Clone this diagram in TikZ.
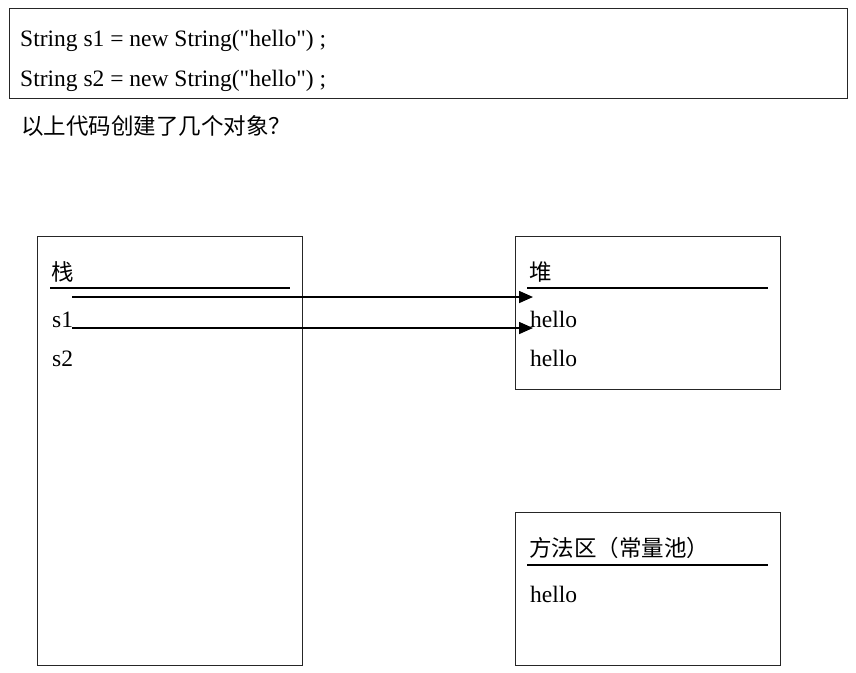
\documentclass[tikz,border=0pt]{standalone}
\usepackage{fontspec}
\setmainfont{Liberation Serif}[Ligatures=TeXOff]
\newfontfamily\cjk{Noto Sans CJK SC}
\usetikzlibrary{arrows.meta}
\begin{document}
\begin{tikzpicture}[x=1pt,y=-1pt,
  box/.style={draw=black!85,line width=1.3pt,inner sep=0pt,anchor=north west},
  txt/.style={inner sep=0pt,anchor=base west,font=\fontsize{23.5}{26}\selectfont},
  ctxt/.style={inner sep=0pt,anchor=base west,font=\fontsize{22.5}{25}\selectfont\cjk},
  rule/.style={line width=2pt},
  ptr/.style={line width=1.6pt,-{Triangle[length=14pt,width=12pt]}}]
\useasboundingbox (0,0) rectangle (856,672);
% code box
\node[box,minimum width=838pt,minimum height=90pt] (code) at (9,7.5) {};
\node[txt] (l1) at (20,46.5) {String s1 = new String("hello") ;};
\node[txt] (l2) at (20,86.5) {String s2 = new String("hello") ;};
\node[ctxt] (q) at (21,134) {以上代码创建了几个对象？};
% stack
\node[box,minimum width=265pt,minimum height=429pt] (stack) at (37,236) {};
\node[ctxt] (stt) at (51,280) {栈};
\coordinate (sl1) at (50,288); \coordinate (sl2) at (290,288);
\draw[rule] (sl1) -- (sl2);
\node[txt] (s1) at (52,327) {s1};
\node[txt] (s2) at (52,366) {s2};
% heap
\node[box,minimum width=265pt,minimum height=153pt] (heap) at (515,236) {};
\node[ctxt] (ht) at (529,280) {堆};
\coordinate (hl1) at (527,288); \coordinate (hl2) at (768,288);
\draw[rule] (hl1) -- (hl2);
\node[txt] (h1) at (530,327) {hello};
\node[txt] (h2) at (530,366) {hello};
% method area
\node[box,minimum width=265pt,minimum height=153pt] (meth) at (515,512) {};
\node[ctxt] (mt) at (529,556) {方法区（常量池）};
\coordinate (ml1) at (527,565); \coordinate (ml2) at (768,565);
\draw[rule] (ml1) -- (ml2);
\node[txt] (m1) at (530,602) {hello};
% pointers
\coordinate (a1s) at (72,297); \coordinate (a1e) at (533,297);
\coordinate (a2s) at (72,328); \coordinate (a2e) at (533,328);
\draw[ptr] (a1s) -- (a1e);
\draw[ptr] (a2s) -- (a2e);
\end{tikzpicture}
\end{document}
